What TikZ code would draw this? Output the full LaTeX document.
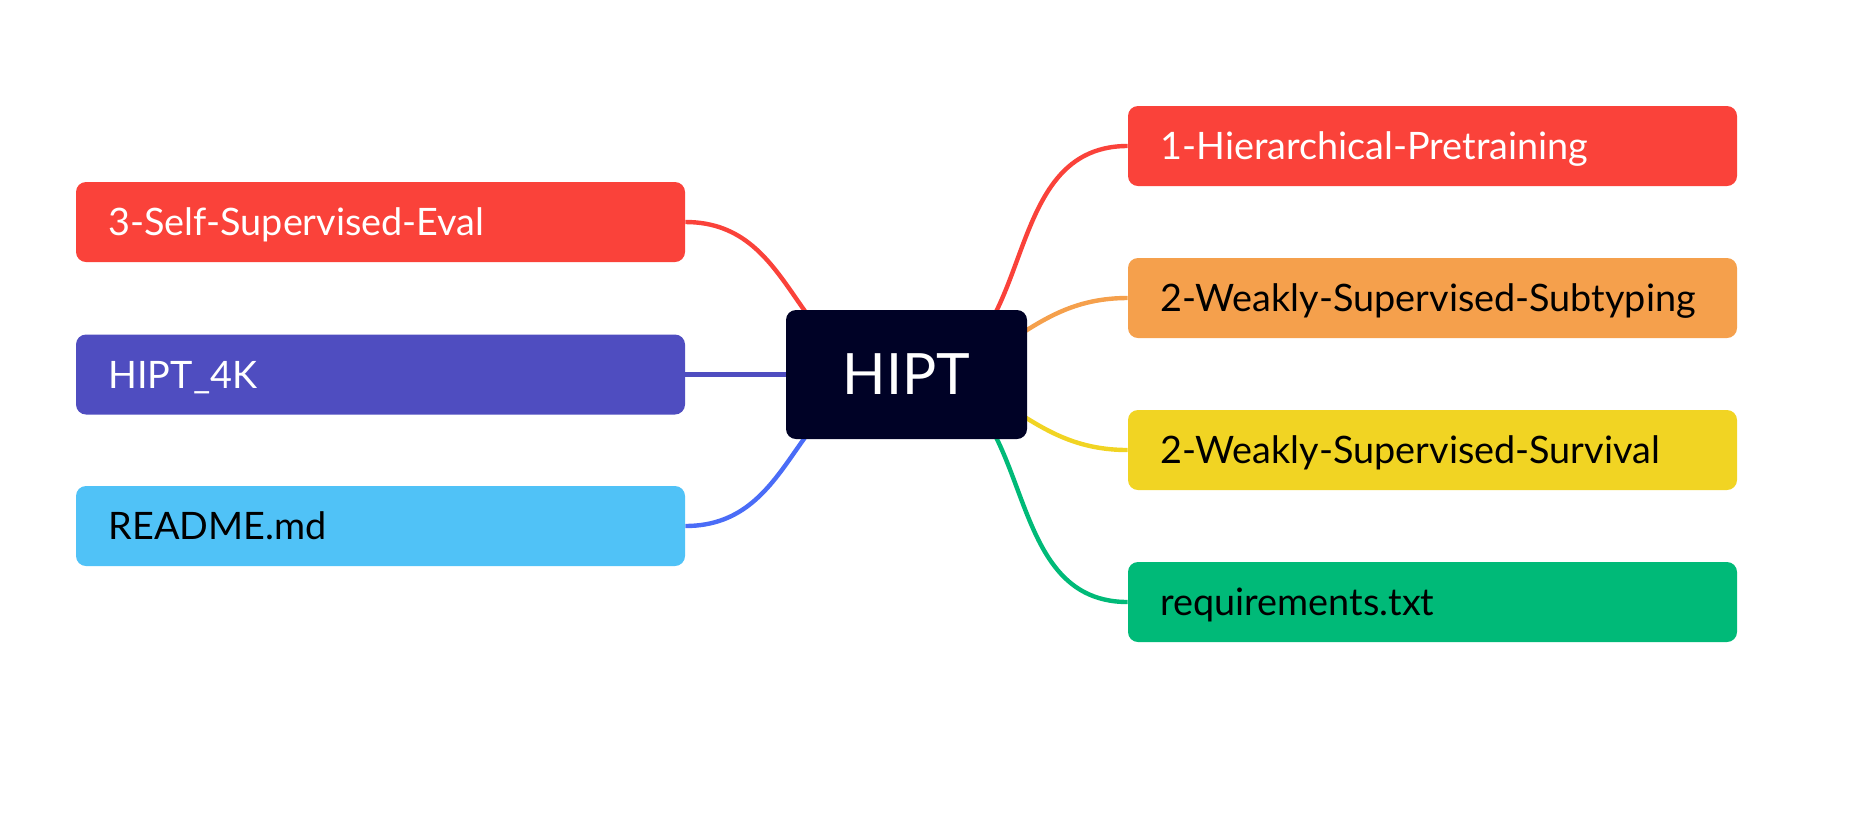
\documentclass[tikz,border=0pt]{standalone}
\usepackage{fontspec}
\setmainfont{Lato}
\usetikzlibrary{backgrounds}
\definecolor{rootcol}{RGB}{0,2,38}
\definecolor{redcol}{RGB}{250,66,58}
\definecolor{purplecol}{RGB}{79,77,192}
\definecolor{skycol}{RGB}{80,194,247}
\definecolor{bluecol}{RGB}{74,108,247}
\definecolor{orangecol}{RGB}{245,160,76}
\definecolor{yellowcol}{RGB}{241,212,35}
\definecolor{greencol}{RGB}{0,186,120}
\tikzset{
  root/.style={rectangle,rounded corners=5pt,fill=rootcol,text=white,
    minimum width=120.5pt,minimum height=64.5pt,font=\fontsize{28.5}{34}\selectfont},
  leaf/.style={rectangle,rounded corners=5pt,minimum height=40pt,text width=272pt,
    text depth=0pt,inner xsep=16.25pt,inner ysep=0pt,align=left,
    font=\fontsize{18.9}{22}\selectfont},
  branch/.style={line width=2.2pt}
}

\begin{document}
\begin{tikzpicture}[x=0.5pt,y=-0.5pt]
  \useasboundingbox (0,0) rectangle (1862,816);
  \node[root] (hipt) at (906.5,374.5) {HIPT};
  % left side
  \node[leaf,fill=redcol,text=white] (eval) at (380.5,222) {3-Self-Supervised-Eval};
  \node[leaf,fill=purplecol,text=white] (fourk) at (380.5,374.5) {HIPT\_4K};
  \node[leaf,fill=skycol,text=black] (readme) at (380.5,526) {README.md};
  % right side
  \node[leaf,fill=redcol,text=white] (pretrain) at (1432.5,146) {1-Hierarchical-Pretraining};
  \node[leaf,fill=orangecol,text=black] (subtype) at (1432.5,298) {2-Weakly-Supervised-Subtyping};
  \node[leaf,fill=yellowcol,text=black] (surv) at (1432.5,450) {2-Weakly-Supervised-Survival};
  \node[leaf,fill=greencol,text=black] (reqs) at (1432.5,602) {requirements.txt};
  \begin{scope}[on background layer,looseness=1.1]
    \draw[branch,redcol] (eval.east) to[out=0,in=180] (hipt.center);
    \draw[branch,purplecol] (fourk.east) -- (hipt.center);
    \draw[branch,bluecol] (readme.east) to[out=0,in=180] (hipt.center);
    \draw[branch,redcol] (pretrain.west) to[out=180,in=0] (hipt.center);
    \draw[branch,orangecol] (subtype.west) to[out=180,in=0] (hipt.center);
    \draw[branch,yellowcol] (surv.west) to[out=180,in=0] (hipt.center);
    \draw[branch,greencol] (reqs.west) to[out=180,in=0] (hipt.center);
  \end{scope}
\end{tikzpicture}
\end{document}
